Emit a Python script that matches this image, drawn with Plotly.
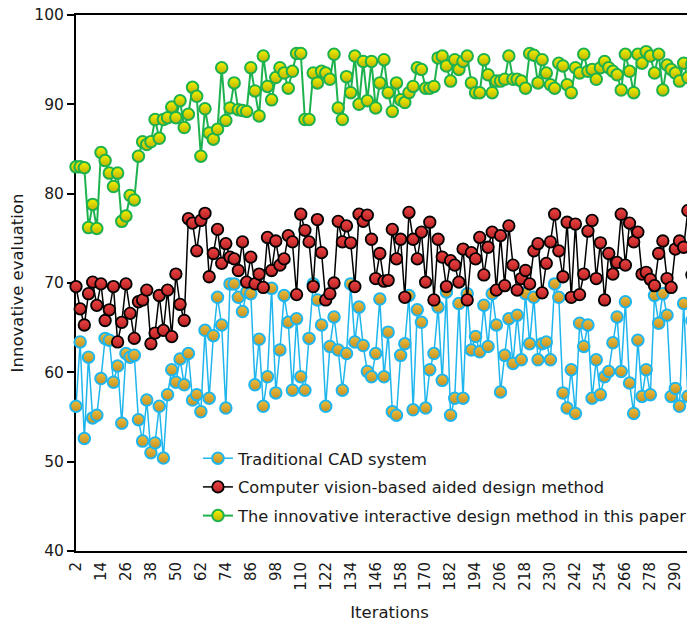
import plotly.graph_objects as go

iterations = list(range(2, 301, 2))

traditional_cad = [
    56.2, 63.4, 52.6, 61.7, 54.9, 55.2, 59.3, 63.8, 63.6, 58.9, 60.7, 54.3, 62.1, 61.7, 61.9, 54.7, 52.3, 56.9, 51.0, 52.1,
    56.2, 50.4, 57.5, 60.3, 58.9, 61.5, 58.6, 62.1, 56.9, 57.5, 55.6, 64.7, 57.1, 64.1, 68.4, 65.3, 56.0, 69.9,
    69.9, 68.4, 66.8, 69.0, 68.8, 58.6, 63.7, 56.2, 59.5, 69.4, 57.7, 62.5, 68.6, 65.6, 58.0, 66.0, 59.5, 58.0,
    63.8, 69.9, 68.1, 65.3, 56.2, 62.9, 66.2, 62.5, 58.0, 62.1, 69.9, 63.4, 67.3, 63.0, 60.1, 59.5, 62.1,
    68.2, 59.5, 64.5, 55.6, 55.2, 61.9, 63.2, 68.6, 55.8, 67.0, 65.6, 56.0, 60.3, 62.1, 67.3, 59.1, 69.0, 55.2,
    57.1, 67.7, 57.1, 68.8, 62.5, 64.0, 62.3, 67.5, 62.9, 68.8, 65.3, 57.8, 61.9, 66.0, 61.0, 66.4, 61.4, 68.8,
    63.2, 68.4,
    61.4, 63.2, 63.4, 61.4, 69.9, 68.4, 57.7, 56.0, 60.3, 55.4, 65.5, 62.9, 65.3, 57.1, 61.4, 57.5, 59.5, 60.1,
    63.3, 66.2, 60.1, 67.9, 58.8, 55.4, 63.6, 57.3, 60.3, 57.5, 68.6, 65.5, 68.8, 66.4, 57.3, 58.2, 56.2, 67.7,
    57.3, 65.8, 66.0,
]

vision_based = [
    69.6, 67.1, 65.3, 68.8, 70.1, 67.5, 69.9, 65.8, 67.0, 69.6, 63.4, 65.6, 69.9, 66.6, 63.8, 67.9, 68.1, 69.2,
    63.2, 64.4, 68.6, 64.7, 69.2, 64.0, 71.0, 67.6, 65.8, 77.2, 76.7, 73.6, 77.0, 77.8, 70.7, 73.3, 76.0, 72.2,
    74.4, 72.9,
    72.7, 71.4, 74.6, 70.1, 72.9, 69.9, 71.0, 69.5, 75.1, 71.4, 74.7, 72.0, 72.7, 75.3, 74.6, 68.7, 77.7, 75.9,
    74.6, 69.6, 77.1, 73.4, 68.1, 68.8, 70.0, 76.9, 74.6, 76.4, 74.5, 69.6, 77.7, 76.9, 77.6, 74.9, 70.5,
    73.3, 70.2, 70.3, 76.0, 72.7, 74.9, 68.4, 77.9, 74.9, 72.7, 75.7, 70.1, 76.8, 68.1, 74.9, 72.9, 69.6, 72.5,
    72.0, 70.1, 73.8, 68.1, 73.4, 72.7, 75.1, 70.9, 74.0, 75.7, 69.2, 75.3, 69.7, 76.4, 72.0, 69.2, 70.5, 71.4,
    69.9, 73.6, 74.4,
    68.9, 72.2, 74.6, 77.7, 73.6, 70.7, 76.8, 68.4, 76.6, 68.7, 71.0, 75.8, 77.0, 70.5, 74.5, 68.1, 73.3, 71.0,
    72.3, 77.7, 72.0, 76.7, 74.6, 75.7, 71.0, 71.2, 70.4, 69.7, 73.3, 74.7, 70.5, 69.5, 73.8, 74.7, 74.0, 78.1,
    70.9, 68.3,
]

interactive_method = [
    83.0, 83.0, 82.9, 76.2, 78.8, 76.1, 84.6, 83.7, 82.3, 80.8, 82.3, 76.9, 77.5, 79.8, 79.3, 84.2, 85.8, 85.5,
    85.8, 88.3, 86.2, 88.3, 88.5, 89.7, 88.5, 90.4, 87.4, 88.9, 91.9, 90.9, 84.2, 89.5, 86.8, 86.1, 87.2, 94.1,
    88.2, 89.6, 92.4, 89.4,
    89.3, 89.2, 94.1, 91.5, 88.7, 95.4, 92.0, 90.5, 93.0, 94.1, 93.5, 91.8, 93.7, 95.7, 95.7, 88.3, 88.3, 93.5,
    92.4, 93.7, 93.5, 92.8, 95.6, 89.6, 88.3, 93.1, 91.3, 95.4, 90.0, 94.8, 90.4, 94.8, 89.6, 92.4, 95.0,
    91.3, 89.2, 92.4, 90.5, 90.2, 91.3, 92.0, 94.1, 93.9, 91.8, 91.8, 92.0, 95.2, 95.4, 94.3, 92.6, 95.0, 93.9,
    94.8, 95.4, 92.4, 91.3, 91.3, 95.0, 93.3, 91.3, 92.6, 92.6, 92.8, 95.4, 92.8, 92.8, 92.6, 91.8, 95.7, 95.5,
    92.4, 95.0, 93.5, 92.2, 91.8, 94.6, 94.3, 92.2, 91.3, 94.1, 93.5, 95.6, 93.7, 93.9, 92.8, 94.1, 94.8, 94.1,
    93.7, 93.3, 91.6, 95.6, 93.7, 91.3, 95.6, 94.6, 95.9, 95.4, 93.5, 95.6, 91.6, 94.4, 93.9, 93.5, 92.6, 94.6,
    93.0, 94.5, 93.5,
]

series_names = [
    "Traditional CAD system",
    "Computer vision-based aided design method",
    "The innovative interactive design method in this paper",
]

x_label_ticks = list(range(2, 291, 12))
x_mark_ticks = list(range(2, 300, 14))
y_ticks = [40, 50, 60, 70, 80, 90, 100]
x_range = [2, 303.3]

FONT = "DejaVu Sans"
TXT = "#1a1a1a"

styles = [
    dict(line="#1FB6EE", fill="#EDBE3C", grad="#C48F22", lw=1.5, mlw=2),
    dict(line="#000000", fill="#EE4444", grad="#B82222", lw=1.5, mlw=1.8),
    dict(line="#1DB24E", fill="#F2F200", grad="#BDB200", lw=2, mlw=2),
]

fig = go.Figure()
for name, vals, st in zip(series_names, [traditional_cad, vision_based, interactive_method], styles):
    fig.add_trace(go.Scatter(
        x=iterations, y=vals, name=name, mode="lines+markers",
        legendgroup=name,
        line=dict(color=st["line"], width=st["lw"]),
        marker=dict(size=11.5, color=st["fill"],
                    line=dict(color=st["line"], width=st["mlw"]),
                    gradient=dict(type="vertical", color=st["grad"])),
        cliponaxis=False,
    ))

fig.update_layout(
    width=695, height=616,
    margin=dict(l=68, r=0, t=6.5, b=72.5, autoexpand=False),
    paper_bgcolor="white", plot_bgcolor="white",
    font=dict(family=FONT, size=15, color=TXT),
    showlegend=True,
    legend=dict(
        x=0.1945, y=0.205, xanchor="left", yanchor="top",
        bgcolor="rgba(0,0,0,0)", borderwidth=0,
        font=dict(family=FONT, size=16.3, color=TXT),
        traceorder="grouped", tracegroupgap=4.5,
    ),
    xaxis=dict(
        range=x_range, tickmode="array", tickvals=x_label_ticks,
        ticktext=[str(v) for v in x_label_ticks], tickangle=-90, ticks="",
        ticklabelstandoff=3, ticklabeloverflow="allow",
        showline=True, linecolor="black", linewidth=2, mirror=True,
        showgrid=False, zeroline=False, layer="below traces",
        tickfont=dict(family=FONT, size=15, color=TXT),
        title=dict(text="Iterations", font=dict(family=FONT, size=16.5, color=TXT), standoff=17),
    ),
    xaxis2=dict(
        range=x_range, overlaying="x", anchor="y", side="bottom",
        tickmode="array", tickvals=x_mark_ticks, ticks="inside", ticklen=7, tickwidth=2,
        tickcolor="black", showticklabels=False, showline=False, showgrid=False, zeroline=False,
    ),
    yaxis=dict(
        range=[40, 100], tickmode="array", tickvals=y_ticks, ticks="outside", ticklen=7, tickwidth=2,
        tickcolor="black", showline=True, linecolor="black", linewidth=2, mirror=False,
        showgrid=False, zeroline=False, layer="below traces", ticklabeloverflow="allow",
        tickfont=dict(family=FONT, size=15.5, color=TXT),
        title=dict(text="Innovative evaluation", font=dict(family=FONT, size=16.5, color=TXT), standoff=16),
    ),
)

fig.write_html("out.html")
